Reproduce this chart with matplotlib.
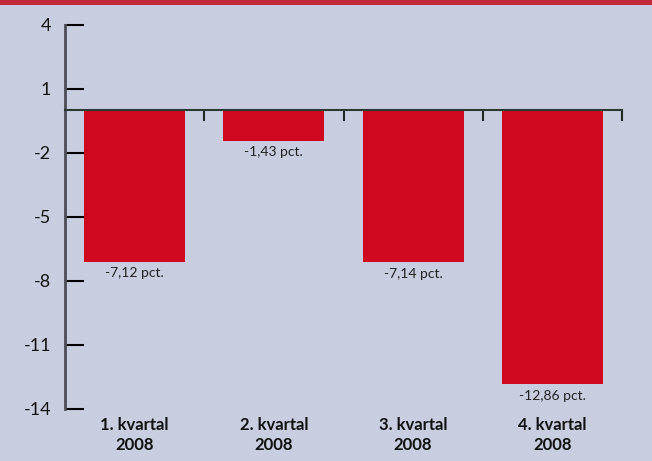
import matplotlib.pyplot as plt
from matplotlib.patches import Rectangle

# Quarterly change, 2008 (pct.)
quarters = ['1. kvartal\n2008', '2. kvartal\n2008', '3. kvartal\n2008', '4. kvartal\n2008']
changes = [-7.12, -1.43, -7.14, -12.86]
yticks = [4, 1, -2, -5, -8, -11, -14]

bg = '#c8cde0'
bar_red = '#cf0820'

plt.rcParams['font.family'] = ['Lato', 'DejaVu Sans']

fig = plt.figure(figsize=(6.52, 4.61), dpi=100, facecolor=bg)
ax = fig.add_axes([65 / 652, 1 - 408.7 / 461, 557 / 652, 384 / 461])
ax.set_facecolor(bg)

# red band across the top
fig.patches.append(Rectangle((0, 1 - 5 / 461), 1, 5 / 461, transform=fig.transFigure,
                             facecolor='#c22a3a', edgecolor='none'))

centers = [i + 0.5 for i in range(len(quarters))]
ax.bar(centers, changes, width=0.725, color=bar_red, zorder=2)

ax.set_xlim(0, len(quarters))
ax.set_ylim(-14, 4)

# value labels under each bar
for x, v in zip(centers, changes):
    txt = f'{v:.2f}'.replace('.', ',') + ' pct.'
    ax.annotate(txt, (x, v), xytext=(0, -4), textcoords='offset points',
                ha='center', va='top', fontsize=10, color='#222222')

# category labels along the bottom
for x, q in zip(centers, quarters):
    ax.text(x, -0.022, q, transform=ax.get_xaxis_transform(), ha='center', va='top',
            fontsize=12, fontweight='bold', color='#111111', linespacing=1.3)

# spines
for s in ['top', 'right']:
    ax.spines[s].set_visible(False)
ax.spines['left'].set_color('#4d4d55')
ax.spines['left'].set_linewidth(2)
ax.spines['bottom'].set_position(('data', 0))
ax.spines['bottom'].set_color('#2a3a32')
ax.spines['bottom'].set_linewidth(1.5)
ax.spines['bottom'].set_zorder(3)

# y ticks point into the plot
ax.set_yticks(yticks)
ax.set_yticklabels([str(t) for t in yticks])
ax.tick_params(axis='y', direction='in', length=14, width=1.5, pad=10,
               labelsize=13, labelcolor='#111111')
for t, tick in zip(yticks, ax.yaxis.get_major_ticks()):
    tick.tick1line.set_color('#1f3a2c' if t > 0 else '#5aa882')

# x ticks at the quarter boundaries, hanging down from the zero line
ax.set_xticks([1, 2, 3, 4])
ax.set_xticklabels([])
ax.tick_params(axis='x', direction='out', length=8, width=1.5, color='#1f2a25')

fig.savefig('out.png', dpi=100, facecolor=bg)
